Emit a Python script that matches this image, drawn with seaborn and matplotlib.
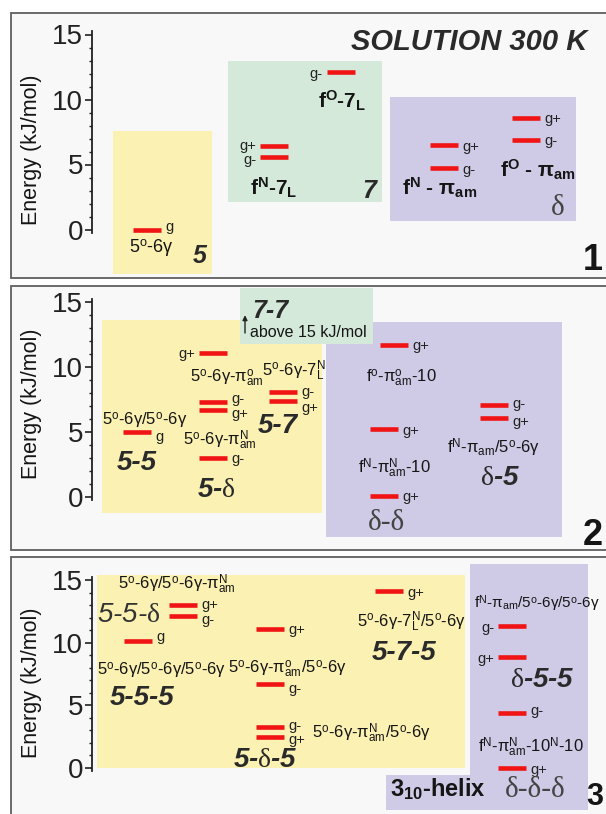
import matplotlib
matplotlib.use("Agg")
import matplotlib.pyplot as plt
from matplotlib.patches import Rectangle
from matplotlib.ticker import FixedLocator
import seaborn as sns

W, H = 606, 814

# energies (kJ/mol) and side-chain conformer of every level, per panel
p1_energy = [0.0, 6.4, 5.6, 12.1, 6.5, 4.7, 8.6, 6.9]
p1_conf = ['g', 'g+', 'g-', 'g-', 'g+', 'g-', 'g+', 'g-']

p2_energy = [5.0, 11.1, 7.3, 6.7, 3.0, 8.1, 7.4, 11.7, 5.2, 0.1, 7.1, 6.1]
p2_conf = ['g', 'g+', 'g-', 'g+', 'g-', 'g-', 'g+', 'g+', 'g+', 'g+', 'g-', 'g+']

p3_energy = [13.0, 12.1, 10.1, 11.1, 6.7, 3.3, 2.5, 14.1, 11.3, 8.85, 4.4, 0.0]
p3_conf = ['g+', 'g-', 'g', 'g+', 'g-', 'g-', 'g+', 'g+', 'g-', 'g+', 'g-', 'g+']

# layout: column of each level, side and small shift of its conformer tag
p1_x = [147, 274, 274, 341, 444, 444, 526, 526]
p1_side = ['r', 'l', 'l', 'l', 'r', 'r', 'r', 'r']
p1_nudge = [0.3, 0.15, -0.15, 0, 0, 0, 0, 0]
p2_x = [137, 213, 213, 213, 213, 283, 283, 394, 384, 384, 494, 494]
p2_side = ['r', 'l', 'r', 'r', 'r', 'r', 'r', 'r', 'r', 'r', 'r', 'r']
p2_nudge = [-0.3, 0, 0.35, -0.2, 0, 0.1, -0.45, 0, 0, 0, 0.15, -0.2]
p3_x = [183, 183, 138, 270, 270, 270, 270, 389, 512, 512, 512, 512]
p3_side = ['r', 'r', 'r', 'r', 'r', 'r', 'r', 'r', 'l', 'l', 'r', 'r']
p3_nudge = [0.1, -0.2, 0.5, 0, -0.3, 0.15, -0.15, 0, 0, 0, 0.3, 0]

YELLOW, GREEN, PURPLE = '#fbf1b2', '#d4e9da', '#cfcbe6'

sns.set_style("white")
plt.rcParams['font.family'] = ['Liberation Sans', 'DejaVu Sans']
plt.rcParams['mathtext.fontset'] = 'custom'
plt.rcParams['mathtext.rm'] = 'Liberation Serif'
plt.rcParams['mathtext.it'] = 'Liberation Serif:italic'
plt.rcParams['mathtext.bf'] = 'Liberation Serif:bold'

SERIF = ['Liberation Serif', 'DejaVu Serif']
FS = 12  # formula labels

fig = plt.figure(figsize=(W / 100, H / 100), dpi=100)
fig.patch.set_facecolor('white')


def put(px, py, s, size=FS, **kw):
    kw.setdefault('va', 'baseline')
    kw.setdefault('ha', 'left')
    kw.setdefault('color', '#151515')
    fig.text(px / W, 1 - py / H, s, fontsize=size, **kw)


def make_panel(top, bottom, zero, scale):
    ax = fig.add_axes([11 / W, 1 - bottom / H, (614 - 11) / W, (bottom - top) / H])
    ax.set_xlim(11, 614)
    ax.set_ylim((zero - bottom) / scale, (zero - top) / scale)
    ax.set_facecolor('none')
    ax.add_patch(Rectangle((0, 0), 1, 1, transform=ax.transAxes, fc='#f8f8f8',
                           ec='#5f5f5f', lw=1.3, zorder=0, clip_on=False))
    for s in ['top', 'right', 'bottom']:
        ax.spines[s].set_visible(False)
    ax.spines['left'].set_position(('data', 92))
    ax.spines['left'].set_bounds(-0.25, 15.25)
    ax.spines['left'].set_linewidth(1.3)
    ax.spines['left'].set_color('#222222')
    ax.set_xticks([])
    ax.yaxis.set_major_locator(FixedLocator([0, 5, 10, 15]))
    ax.yaxis.set_minor_locator(FixedLocator(range(0, 16)))
    ax.tick_params(axis='y', which='major', length=5, width=1.2, pad=1.5,
                   labelsize=20, colors='#222222', direction='out', left=True)
    ax.tick_params(axis='y', which='minor', length=2.5, width=1.0,
                   colors='#222222', direction='out', left=True)
    ax.set_ylabel('')
    return ax


def box(ax, x0, x1, y0, y1, color, z=1):
    ax.add_patch(Rectangle((x0, y0), x1 - x0, y1 - y0, fc=color, ec='none', zorder=z))


def levels(ax, xs, energy, conf, side, nudge):
    sns.scatterplot(x=xs, y=energy, marker='_', s=410, linewidth=3.3,
                    color='#f01414', ax=ax, legend=False, zorder=3)
    for x, e, c, sd, dy in zip(xs, energy, conf, side, nudge):
        if sd == 'r':
            ax.text(x + 18, e + dy, c, ha='left', va='center_baseline', fontsize=10.5, color='#222')
        else:
            ax.text(x - 18, e + dy, c, ha='right', va='center_baseline', fontsize=10.5, color='#222')


O = r"$^{\mathregular{o}}$"
N = r"$^{\mathregular{N}}$"
PI = r"π$_{\mathregular{am}}$"
PIO = r"π$^{\mathregular{o}}_{\mathregular{am}}$"
PIN = r"π$^{\mathregular{N}}_{\mathregular{am}}$"
L7N = r"7$^{\mathregular{N}}_{\mathregular{L}}$"
G = "5" + O + "-6γ"
D = r"$\mathrm{\delta}$"

BI = dict(fontweight='bold', style='italic', color='#2a2a2a')
DEL = dict(family=SERIF, color='#444444')
YL = dict(rotation=90, ha='center', va='center')

# ---------------- panel 1
ax1 = make_panel(13, 278, 229.5, 13.0)
box(ax1, 113, 212, -3.4, 7.6, YELLOW)
box(ax1, 228, 382, 2.1, 13.0, GREEN)
box(ax1, 390, 576, 0.65, 10.2, PURPLE)
levels(ax1, p1_x, p1_energy, p1_conf, p1_side, p1_nudge)

put(32, 150, 'Energy (kJ/mol)', 15.5, **YL)
put(469, 50, 'SOLUTION 300 K', 21, ha='center', **BI)
put(129, 253, G, 13)
put(193, 263, '5', 18, **BI)
put(250, 195, "f" + N + r"-7$_{\mathregular{L}}$", 15, fontweight='bold')
put(318, 108, "f" + r"$^{\mathregular{O}}$" + r"-7$_{\mathregular{L}}$", 15, fontweight='bold')
put(362, 198, '7', 18, **BI)
put(402, 195, "f" + N + " - " + PI, 15, fontweight='bold')
put(500, 177, "f" + r"$^{\mathregular{O}}$" + " - " + PI, 15, fontweight='bold')
put(551, 215, 'δ', 21, **DEL)
put(603, 270, '1', 26, ha='right', fontweight='bold')

# ---------------- panel 2
ax2 = make_panel(286, 550, 497, 13.0)
box(ax2, 102, 322, -1.2, 13.6, YELLOW)
box(ax2, 326, 562, -3.1, 13.45, PURPLE)
box(ax2, 240, 373, 11.75, 16.1, GREEN, z=2)
levels(ax2, p2_x, p2_energy, p2_conf, p2_side, p2_nudge)
ax2.annotate('', xy=(245, 14.2), xytext=(245, 12.4),
             arrowprops=dict(arrowstyle='-|>', lw=1.0, color='#222', mutation_scale=7), zorder=3)

put(32, 404, 'Energy (kJ/mol)', 15.5, **YL)
put(102, 425, G + "/" + G)
put(117, 470, '5-5', 20, **BI)
put(190, 382, G + "-" + PIO)
put(183, 445, G + "-" + PIN)
put(197, 497, "5-" + D, 20, **BI)
put(262, 376, G + "-" + L7N)
put(258, 433, '5-7', 20, **BI)
put(252, 318, '7-7', 18, **BI)
put(250, 337, 'above 15 kJ/mol', 11.5)
put(366, 382, "f" + O + "-" + PIO + "-10")
put(358, 473, "f" + N + "-" + PIN + "-10")
put(368, 530, 'δ-δ', 21, **DEL)
put(447, 453, "f" + N + "-" + PI + "/" + G)
put(480, 485, D + "-5", 20, **BI)
put(603, 545, '2', 26, ha='right', fontweight='bold')

# ---------------- panel 3
ax3 = make_panel(557, 822, 768, 12.53)
box(ax3, 97, 465, 0.0, 15.4, YELLOW)
box(ax3, 470, 588, -3.35, 16.3, PURPLE)
box(ax3, 386, 470, -3.35, -0.56, PURPLE)
levels(ax3, p3_x, p3_energy, p3_conf, p3_side, p3_nudge)

put(32, 683, 'Energy (kJ/mol)', 15.5, **YL)
put(118, 589, G + "/" + G + "-" + PIN)
put(97, 622, "5-5-" + D, 20, style='italic', color='#333333')
put(97, 675, G + "/" + G + "/" + G)
put(110, 705, '5-5-5', 20, **BI)
put(228, 673, G + "-" + PIO + "/" + G)
put(312, 738, G + "-" + PIN + "/" + G)
put(233, 767, "5-" + D + "-5", 20, **BI)
put(357, 627, G + "-" + L7N + "/" + G)
put(372, 660, '5-7-5', 20, **BI)
put(474, 608, "f" + N + "-" + PI + "/" + G + "/" + G, 11)
put(510, 687, D + "-5-5", 20, **BI)
put(478, 752, "f" + N + "-" + PIN + "-10" + N + "-10")
put(390, 797, r"3$_{\mathregular{10}}$-helix", 17, fontweight='bold')
put(505, 797, 'δ-δ-δ', 21, **DEL)
put(603, 812, '3', 22, ha='right', va='bottom', fontweight='bold')

fig.savefig('out.png', dpi=100)
